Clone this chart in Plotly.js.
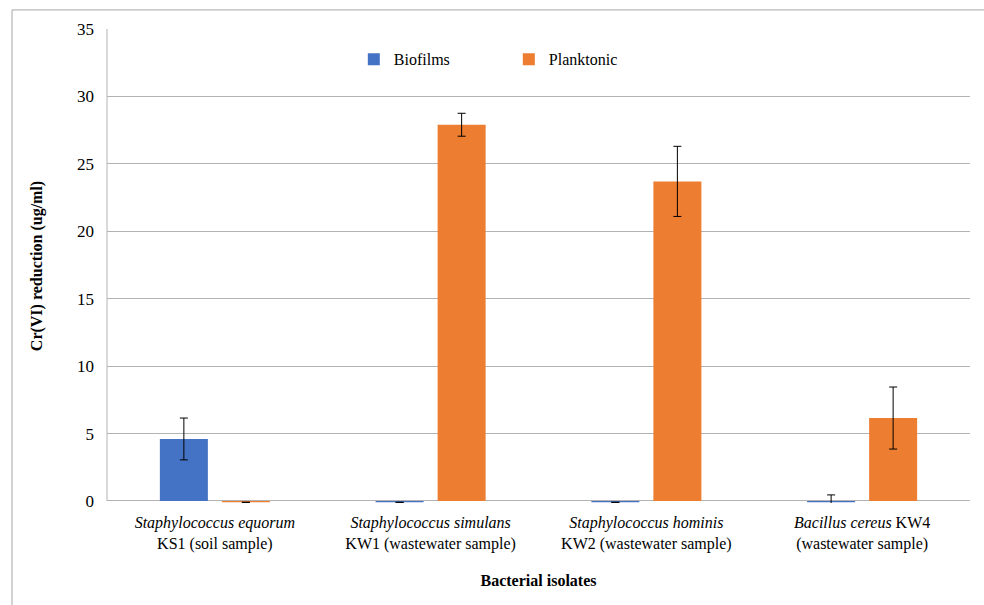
<!DOCTYPE html>
<html>
<head>
<meta charset="utf-8">
<script src="https://cdn.plot.ly/plotly-3.0.1.min.js"></script>
<style>html,body{margin:0;padding:0;background:#fff;}#chart{width:984px;height:605px;}</style>
</head>
<body>
<div id="chart"></div>
<script>
const categories = [
  "<i>Staphylococcus equorum</i><br>KS1 (soil sample)",
  "<i>Staphylococcus simulans</i><br>KW1 (wastewater sample)",
  "<i>Staphylococcus hominis</i><br>KW2 (wastewater sample)",
  "<i>Bacillus cereus</i> KW4<br>(wastewater sample)"
];
const biofilms = [4.6, -0.1, -0.1, -0.1];
const biofilmsErr = [1.55, 0, 0, 0.55];
const planktonic = [-0.1, 27.9, 23.7, 6.15];
const planktonicErr = [0, 0.85, 2.6, 2.3];
const yTicks = [0, 5, 10, 15, 20, 25, 30, 35];

const font = "'Liberation Serif', 'Times New Roman', Times, serif";
const traces = [
  {type: "bar", name: "Biofilms", x: categories, y: biofilms,
   marker: {color: "#4472C4"},
   error_y: {type: "data", array: biofilmsErr, visible: true, color: "#000", thickness: 1, width: 4}},
  {type: "bar", name: "Planktonic", x: categories, y: planktonic,
   marker: {color: "#ED7D31"},
   error_y: {type: "data", array: planktonicErr, visible: true, color: "#000", thickness: 1, width: 4}}
];
const layout = {
  width: 984, height: 605,
  margin: {l: 107, r: 14, t: 29, b: 102},
  paper_bgcolor: "#fff", plot_bgcolor: "#fff",
  font: {family: font, size: 16, color: "#000"},
  barmode: "group", bargap: 0.425, bargroupgap: 0.226,
  showlegend: true,
  legend: {orientation: "h", x: 0.286, xanchor: "left", y: 0.936, yanchor: "middle",
           font: {family: font, size: 16, color: "#000"}, entrywidth: 110, bgcolor: "rgba(0,0,0,0)"},
  xaxis: {type: "category", showgrid: false, zeroline: false, showline: false,
          tickfont: {family: font, size: 16, color: "#000"}, ticks: "", ticklabelstandoff: 8,
          title: {text: "<b>Bacterial isolates</b>", font: {family: font, size: 16, color: "#000"}, standoff: 23}},
  yaxis: {range: [-0.15, 35], tickvals: yTicks, ticktext: yTicks.map(String),
          showgrid: true, gridcolor: "#b3b3b3", gridwidth: 1,
          zeroline: true, zerolinecolor: "#b3b3b3", zerolinewidth: 1,
          showline: false,
          ticks: "", ticklabelstandoff: 12,
          tickfont: {family: font, size: 17, color: "#000"},
          title: {text: "<b>Cr(VI) reduction (ug/ml)</b>", font: {family: font, size: 16, color: "#000"}, standoff: 30}},
  shapes: [
    {type: "rect", xref: "paper", yref: "paper",
     x0: (12 - 107) / 863, x1: 1.05, y0: -0.3, y1: (501 - 10) / 472,
     line: {color: "#a6a6a6", width: 1}, fillcolor: "rgba(0,0,0,0)", layer: "below"},
    {type: "line", xref: "paper", yref: "y", x0: 0, x1: 0, y0: 0, y1: 35,
     line: {color: "#b3b3b3", width: 1}, layer: "below"}
  ]
};
Plotly.newPlot("chart", traces, layout, {displayModeBar: false, staticPlot: true});
</script>
</body>
</html>
